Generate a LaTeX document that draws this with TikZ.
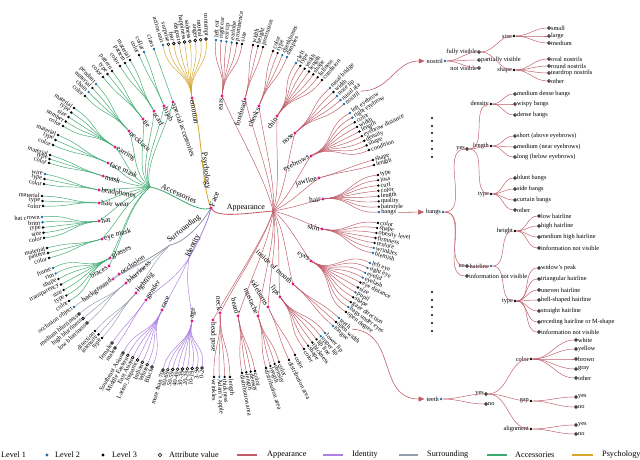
\documentclass[tikz,border=0pt]{standalone}
\usepackage{fontspec}
\setmainfont{Liberation Serif}
\usetikzlibrary{calc,arrows.meta}
\definecolor{cA}{RGB}{192,92,104}
\definecolor{cI}{RGB}{170,128,224}
\definecolor{cS}{RGB}{148,156,172}
\definecolor{cC}{RGB}{60,170,112}
\definecolor{cP}{RGB}{214,166,44}
\definecolor{cPink}{RGB}{236,20,134}
\definecolor{cBlue}{RGB}{28,112,172}
\newcommand\fA{\fontsize{6.8}{7}\selectfont}
\newcommand\fB{\fontsize{6.3}{7}\selectfont}
\newcommand\fC{\fontsize{5.4}{6}\selectfont}
\newcommand\fL{\fontsize{7}{8}\selectfont}
\tikzset{
  lnk/.style={line width=0.4pt},
  mainlnk/.style={line width=0.7pt},
  dotP/.style={circle,fill=cPink,inner sep=0pt,minimum size=2.6pt},
  dotb/.style={circle,fill=cBlue,inner sep=0pt,minimum size=2.2pt},
  dotk/.style={circle,fill=black,inner sep=0pt,minimum size=2.2pt},
  doto/.style={circle,draw=black,fill=white,line width=0.5pt,inner sep=0pt,minimum size=2.4pt},
  dotstyle/.style={dot#1},
  hl/.style={inner sep=1.6pt,font=\fC},
  arr/.style={-{Triangle[length=5pt,width=4.2pt]},line width=0.5pt,cA},
  lgline/.style={line width=1.8pt},
  lgtext/.style={anchor=west,inner sep=0pt,font=\fL},
}
% radial label: name, x, y, text, outward(1)/inward(0), font
\newcommand\rlab[6]{%
  \pgfmathsetmacro\rang{atan2(208-(#3),(#2)-211)}%
  \pgfmathsetmacro\rright{cos(\rang)>=0 ? 1 : 0}%
  \pgfmathsetmacro\rrot{\rright>0.5 ? \rang : \rang+180}%
  \pgfmathsetmacro\rwest{abs(\rright-(#5))<0.5 ? 1 : 0}%
  \ifdim\rwest pt>0.5pt\def\ranch{west}\else\def\ranch{east}\fi
  \node[anchor=\ranch,rotate=\rrot,inner sep=1.8pt,font=#6] (#1) at (#2,#3) {#4};%
}
% leaf group: color, parent, x1,y1, x2,y2, n, list type/label
\newcommand\lgrp[8]{%
  \coordinate (gm) at ({((#3)+(#5))/2},{((#4)+(#6))/2});
  \foreach \ty/\lb [count=\ix from 0] in {#8} {%
    \pgfmathsetmacro\lx{#3+((#5)-(#3))*\ix/max((#7)-1,1)}%
    \pgfmathsetmacro\ly{#4+((#6)-(#4))*\ix/max((#7)-1,1)}%
    \coordinate (#2-c\ix) at (\lx,\ly);
    \draw[lnk,#1] (#2) .. controls ($(#2)!0.5!(gm)$) and ($(#2-c\ix)+0.5*(#2)-0.5*(gm)$) .. (#2-c\ix);
    \node[dotstyle/.expand once=\ty] (#2-\ix) at (#2-c\ix) {};
    \rlab{#2-t\ix}{\lx}{\ly}{\lb}{1}{\fC}
  }%
}
% level-2 node: name, x, y, label, hub, mid, color, outward
\newcommand\ltwo[8]{%
  \coordinate (#1-c) at (#2,#3);
  \draw[lnk,#7] (#5) .. controls ($0.5*(#5)+0.25*(#1-c)+0.25*(#6)$) and ($(#1-c)!0.35!(#5)$) .. (#1-c);
  \node[dotP] (#1) at (#1-c) {};
  \rlab{#1-t}{#2}{#3}{#4}{#8}{\fB}%
}
\newcommand\rnl[5]{\node[dotstyle=#4] (#1) at (#2,#3) {};\node[hl,anchor=east] (#1-t) at (#2,#3) {#5};}
\newcommand\rnr[5]{\node[dotstyle=#4] (#1) at (#2,#3) {};\node[hl,anchor=west] (#1-t) at (#2,#3) {#5};}
\newcommand\hlk[2]{\draw[lnk,cA] (#1) to[out=0,in=180] (#2);}

\begin{document}
\begin{tikzpicture}[x=0.03cm,y=-0.03cm]
\path[use as bounding box,fill=white] (0,0) rectangle (640,460);

% ---------- root and level 1 ----------
\coordinate (facec) at (211,208);
\coordinate (HA) at (273,211); \coordinate (MA) at (300,211);
\coordinate (HC) at (150,187); \coordinate (MC) at (100,190);
\coordinate (HS) at (170,245); \coordinate (MS) at (120,285);
\coordinate (HI) at (189,258); \coordinate (MI) at (170,310);
\coordinate (emotion-c) at (192,98);
\draw[mainlnk,cA] (facec) .. controls (216,218) and (240,214) .. (HA);
\draw[mainlnk,cC] (facec) .. controls (196,214) and (172,191) .. (HC);
\draw[mainlnk,cS] (facec) .. controls (203,222) and (186,242) .. (HS);
\draw[mainlnk,cI] (facec) .. controls (208,222) and (198,242) .. (HI);
\draw[mainlnk,cP] (facec) .. controls (201,185) and (202,125) .. (emotion-c);
\node[dotP] (face) at (facec) {};
\node[font=\fA,anchor=west,inner sep=1.5pt,rotate=70] (lFace) at (face) {Face};
\node[font=\fA,inner sep=0pt] (lApp) at (246,208) {Appearance};
\node[font=\fA,inner sep=0pt,rotate=-24] (lAcc) at (179,194) {Accessories};
\node[font=\fA,inner sep=0pt,rotate=38] (lSur) at (184,229) {Surrounding};
\node[font=\fA,inner sep=0pt,rotate=64] (lIde) at (193,246) {Identity};
\node[font=\fA,inner sep=0pt,rotate=-84] (lPsy) at (206,171) {Psychology};

% ---------- Psychology ----------
\node[dotP] (emotion) at (emotion-c) {};
\rlab{emotion-t}{192}{98}{emotion}{0}{\fB}
\lgrp{cP}{emotion}{163}{45}{206}{39}{9}{b/action unit,o/surprise,o/fear,o/disgust,o/happiness,o/sadness,o/anger,o/neutral,o/contempt}

% ---------- Appearance ----------
\ltwo{ears}{222}{96}{ears}{HA}{MA}{cA}{0}
\ltwo{forehead}{245}{99}{forehead}{HA}{MA}{cA}{0}
\ltwo{cheeks}{259}{106}{cheeks}{HA}{MA}{cA}{0}
\ltwo{chin}{277}{116}{chin}{HA}{MA}{cA}{0}
\ltwo{nose}{295}{133}{nose}{HA}{MA}{cA}{0}
\ltwo{eyebrows}{311}{156}{eyebrows}{HA}{MA}{cA}{0}
\ltwo{jawline}{319}{178}{jawline}{HA}{MA}{cA}{0}
\ltwo{hair}{323}{199}{hair}{HA}{MA}{cA}{0}
\ltwo{skin}{322}{229}{skin}{HA}{MA}{cA}{0}
\ltwo{eyes}{311}{261}{eyes}{HA}{MA}{cA}{0}
\ltwo{mouth}{293}{284}{inside of mouth}{HA}{MA}{cA}{0}
\ltwo{lips}{280}{297}{lips}{HA}{MA}{cA}{0}
\ltwo{sideburns}{268}{307}{sideburns}{HA}{MA}{cA}{0}
\ltwo{mustache}{258}{316}{mustache}{HA}{MA}{cA}{0}
\ltwo{beard}{238}{316}{beard}{HA}{MA}{cA}{0}
\ltwo{neck}{220}{313}{neck}{HA}{MA}{cA}{0}
\ltwo{headpose}{213}{320}{head pose}{HA}{MA}{cA}{1}

\lgrp{cA}{ears}{216}{40}{242}{44}{6}{b/left ear,b/right ear,b/ear tip,b/earlobe,k/prominence,k/size}
\lgrp{cA}{forehead}{253}{45}{263}{47}{3}{k/width,k/height,k/protrusion}
\lgrp{cA}{cheeks}{273}{51}{287}{57}{4}{k/color,k/type,b/cheekbones,b/dimples}
\lgrp{cA}{chin}{296}{63}{322}{80}{7}{b/cleft,k/type,k/width,k/length,k/shape,k/fullness,k/condition}
\lgrp{cA}{nose}{330}{88}{344}{104}{5}{b/nasal bridge,k/width,b/nose tip,b/nasal ala,b/nostril}
\lgrp{cA}{eyebrows}{350}{113}{369}{150}{9}{b/left eyebrow,b/right eyebrow,k/color,k/width,k/length,k/eyebrow distance,k/density,k/shape,k/condition}
\lgrp{cA}{jawline}{373}{160}{374}{165}{2}{k/shape,k/length}
\lgrp{cA}{hair}{378}{175}{379}{212}{8}{k/type,k/loss,k/curl,k/color,k/length,k/quality,k/hairstyle,b/bangs}
\lgrp{cA}{skin}{378}{223}{373}{253}{7}{k/color,k/shape,k/obesity level,k/firmness,k/texture,b/wrinkles,b/blemish}
\lgrp{cA}{eyes}{370}{263}{346}{312}{11}{b/left eye,b/right eye,b/eyelid,b/eyelash,k/eye distance,k/size,b/pupil,k/shape,k/gaze direction,b/bags under eyes,k/open degree}
\lgrp{cA}{mouth}{339}{318}{333}{326}{3}{b/teeth,k/open width,b/tongue}
\lgrp{cA}{lips}{325}{333}{304}{349}{6}{b/lower lip,b/upper lip,k/lip line,k/thickness,k/shape,k/color}
\lgrp{cA}{sideburns}{295}{355}{289}{360}{2}{k/color,k/distribution area}
\lgrp{cA}{mustache}{279}{362}{266}{368}{4}{k/color,k/density,k/length,k/distribution area}
\lgrp{cA}{beard}{255}{371}{242}{373}{4}{k/color,k/density,k/length,k/distribution area}
\lgrp{cA}{neck}{230}{377}{214}{377}{4}{k/length,k/thickness,b/Adam's apple,k/wrinkles}

% ---------- Accessories ----------
\ltwo{braces}{109}{266}{braces}{HC}{MC}{cC}{1}
\ltwo{glasses}{110}{258}{glasses}{HC}{MC}{cC}{0}
\ltwo{eyemask}{102}{239}{eye mask}{HC}{MC}{cC}{0}
\ltwo{hat}{99}{221}{hat}{HC}{MC}{cC}{0}
\ltwo{hairwear}{99}{203}{hair wear}{HC}{MC}{cC}{0}
\ltwo{headph}{99}{190}{headphones}{HC}{MC}{cC}{0}
\ltwo{mask}{103}{176}{mask}{HC}{MC}{cC}{0}
\ltwo{facemask}{108}{163}{face mask}{HC}{MC}{cC}{0}
\ltwo{earring}{115}{147}{earring}{HC}{MC}{cC}{0}
\ltwo{necklace}{129}{131}{necklace}{HC}{MC}{cC}{0}
\ltwo{tie}{143}{119}{tie}{HC}{MC}{cC}{0}
\ltwo{scarf}{154}{111}{scarf}{HC}{MC}{cC}{0}
\ltwo{hijab}{164}{106}{hijab}{HC}{MC}{cC}{0}
\ltwo{specacc}{173}{102}{special accessories}{HC}{MC}{cC}{0}

\lgrp{cC}{glasses}{53}{268}{69}{301}{7}{b/frame,b/rim,k/shape,k/transparency,k/size,k/type,k/color}
\lgrp{cC}{eyemask}{47}{248}{49}{258}{3}{k/material,k/pattern,k/color}
\lgrp{cC}{hat}{42}{217}{44}{238}{5}{b/hat crown,b/brim,k/type,k/size,k/color}
\lgrp{cC}{hairwear}{42}{196}{43}{206}{3}{k/material,k/type,k/color}
\lgrp{cC}{headph}{45}{174}{44}{184}{3}{b/wire,k/type,k/color}
\lgrp{cC}{mask}{50}{155}{49}{163}{3}{k/material,k/type,k/color}
\lgrp{cC}{facemask}{58}{135}{53}{145}{3}{k/material,k/type,k/color}
\lgrp{cC}{earring}{74}{108}{63}{126}{5}{k/material,k/type,k/size,k/number,k/color}
\lgrp{cC}{necklace}{96}{84}{85}{96}{4}{b/pendant,k/material,b/chain,k/color}
\lgrp{cC}{tie}{112}{71}{103}{77}{3}{k/pattern,k/type,k/color}
\lgrp{cC}{scarf}{130}{60}{120}{66}{3}{k/material,k/pattern,k/color}
\lgrp{cC}{hijab}{144}{52}{139}{55}{2}{b/collar,k/color}
\lgrp{cC}{specacc}{154}{49}{154}{49}{1}{b/class}

% ---------- Surrounding ----------
\ltwo{backgr}{113}{279}{background}{HS}{MS}{cS}{1}
\ltwo{occl}{119}{274}{occlusion}{HS}{MS}{cS}{0}
\ltwo{blur}{126}{283}{blurriness}{HS}{MS}{cS}{0}
\ltwo{light}{136}{293}{lighting}{HS}{MS}{cS}{0}
\lgrp{cS}{occl}{74}{307}{74}{307}{1}{b/occlusion object}
\lgrp{cS}{blur}{79}{314}{87}{323}{3}{o/medium blurriness,o/high blurriness,o/low blurriness}
\lgrp{cS}{light}{95}{331}{102}{338}{3}{k/direction,k/intensity,k/type}

% ---------- Identity ----------
\ltwo{gender}{146}{300}{gender}{HI}{MI}{cI}{0}
\ltwo{race}{162}{310}{race}{HI}{MI}{cI}{0}
\ltwo{age}{192}{321}{age}{HI}{MI}{cI}{0}
\lgrp{cI}{gender}{112}{343}{115}{348}{2}{o/female,o/male}
\lgrp{cI}{race}{123}{353}{152}{367}{7}{o/Southeast Asian,o/Middle Eastern,o/East Asian,o/Latino\_hispanic,o/Indian,o/White,o/Black}
\lgrp{cI}{age}{163}{370}{202}{368}{9}{o/more than 70,o/60-69,o/50-59,o/40-49,o/30-39,o/20-29,o/10-19,o/3-9,o/0-2}

% ---------- nostril tree ----------
\rnl{nostril}{445}{61}{b}{nostril}
\rnl{fullv}{479}{52}{o}{fully visible}
\rnr{partv}{479}{60}{o}{partially visible}
\rnl{notv}{479}{68}{o}{not visible}
\rnl{nsize}{514}{36}{k}{size}
\rnl{nshape}{514}{70}{k}{shape}
\rnr{nsmall}{549}{28}{o}{small}
\rnr{nlarge}{549}{36}{o}{large}
\rnr{nmed}{549}{43}{o}{medium}
\rnr{noval}{549}{59}{o}{oval nostrils}
\rnr{nround}{549}{66}{o}{round nostrils}
\rnr{ntear}{549}{73}{o}{teardrop nostrils}
\rnr{nother}{549}{81}{o}{other}
\hlk{nostril}{fullv}\hlk{nostril}{partv}\hlk{nostril}{notv}
\hlk{fullv}{nsize}\hlk{fullv}{nshape}
\hlk{nsize}{nsmall}\hlk{nsize}{nlarge}\hlk{nsize}{nmed}
\hlk{nshape}{noval}\hlk{nshape}{nround}\hlk{nshape}{ntear}\hlk{nshape}{nother}

% ---------- bangs tree ----------
\rnl{bangs}{443}{212}{b}{bangs}
\rnl{byes}{467}{149}{o}{yes}
\rnl{bno}{467}{266}{o}{no}
\rnr{binv}{467}{276}{o}{information not visible}
\rnl{bdens}{491}{104}{k}{density}
\rnl{blen}{491}{146}{k}{length}
\rnl{btype}{491}{194}{k}{type}
\rnr{bmd}{515}{94}{o}{medium dense bangs}
\rnr{bwb}{515}{104}{o}{wispy bangs}
\rnr{bdb}{515}{115}{o}{dense bangs}
\rnr{bshort}{515}{136}{o}{short (above eyebrows)}
\rnr{bmed}{515}{147}{o}{medium (near eyebrows)}
\rnr{blong}{515}{157}{o}{long (below eyebrows)}
\rnr{bblunt}{515}{178}{o}{blunt bangs}
\rnr{bside}{515}{189}{o}{side bangs}
\rnr{bcurt}{515}{200}{o}{curtain bangs}
\rnr{bother}{515}{210}{o}{other}
\rnl{hline}{491}{266}{b}{hairline}
\rnl{hheight}{515}{231}{k}{height}
\rnl{htype}{515}{301}{k}{type}
\rnr{hlow}{539}{216}{o}{low hairline}
\rnr{hhigh}{539}{226}{o}{high hairline}
\rnr{hmh}{539}{237}{o}{medium high hairline}
\rnr{hinv}{539}{248}{o}{information not visible}
\rnr{hwid}{539}{268}{o}{widow's peak}
\rnr{htri}{539}{279}{o}{triangular hairline}
\rnr{hunev}{539}{290}{o}{uneven hairline}
\rnr{hbell}{539}{300}{o}{bell-shaped hairline}
\rnr{hstr}{539}{311}{o}{straight hairline}
\rnr{hrec}{539}{322}{o}{receding hairline or M-shape}
\rnr{hinv2}{539}{332}{o}{information not visible}
\hlk{bangs}{byes}\hlk{bangs}{bno}\hlk{bangs}{binv}
\hlk{byes}{bdens}\hlk{byes}{blen}\hlk{byes}{btype}
\hlk{bdens}{bmd}\hlk{bdens}{bwb}\hlk{bdens}{bdb}
\hlk{blen}{bshort}\hlk{blen}{bmed}\hlk{blen}{blong}
\hlk{btype}{bblunt}\hlk{btype}{bside}\hlk{btype}{bcurt}\hlk{btype}{bother}
\hlk{bno}{hline}\hlk{hline}{hheight}\hlk{hline}{htype}
\hlk{hheight}{hlow}\hlk{hheight}{hhigh}\hlk{hheight}{hmh}\hlk{hheight}{hinv}
\hlk{htype}{hwid}\hlk{htype}{htri}\hlk{htype}{hunev}\hlk{htype}{hbell}\hlk{htype}{hstr}\hlk{htype}{hrec}\hlk{htype}{hinv2}

% ---------- teeth tree ----------
\rnl{teeth}{441}{399}{b}{teeth}
\rnl{tyes}{486}{394}{o}{yes}
\rnr{tno}{486}{404}{o}{no}
\rnl{tcolor}{531}{359}{k}{color}
\rnl{tgap}{531}{401}{k}{gap}
\rnl{talign}{531}{429}{k}{alignment}
\rnr{twhite}{576}{340}{o}{white}
\rnr{tyellow}{576}{349}{o}{yellow}
\rnr{tbrown}{576}{359}{o}{brown}
\rnr{tgray}{576}{369}{o}{gray}
\rnr{tother}{576}{378}{o}{other}
\rnr{gyes}{576}{397}{o}{yes}
\rnr{gno}{576}{407}{o}{no}
\rnr{ayes}{576}{425}{o}{yes}
\rnr{ano}{576}{434}{o}{no}
\hlk{teeth}{tyes}\hlk{teeth}{tno}
\hlk{tyes}{tcolor}\hlk{tyes}{tgap}\hlk{tyes}{talign}
\hlk{tcolor}{twhite}\hlk{tcolor}{tyellow}\hlk{tcolor}{tbrown}\hlk{tcolor}{tgray}\hlk{tcolor}{tother}
\hlk{tgap}{gyes}\hlk{tgap}{gno}\hlk{talign}{ayes}\hlk{talign}{ano}

% ---------- connectors to the expanded trees ----------
\draw[arr] (nose-t4.east) .. controls ($(nose-t4.east)+(30,0)$) and ($(nostril-t.west)+(-30,0)$) .. (nostril-t.west);
\draw[arr] (hair-t7.east) -- (bangs-t.west);
\draw[arr] (mouth-t0.east) .. controls ($(mouth-t0.east)+(46,3)$) and ($(teeth-t.west)+(-48,0)$) .. (teeth-t.west);

% ---------- vertical ellipses ----------
\foreach \yy [count=\k] in {118,126,133,141,149,157}
  \node[circle,fill=black,inner sep=0pt,minimum size=2pt] (va\k) at (432,\yy) {};
\foreach \yy [count=\k] in {292,300,307,315,323,331}
  \node[circle,fill=black,inner sep=0pt,minimum size=2pt] (vb\k) at (432,\yy) {};

% ---------- legend ----------
\node[lgtext] (lg1) at (1,455) {Level 1};
\node[dotb,minimum size=2.8pt] (lg2d) at (47,455) {}; \node[lgtext] (lg2) at (55,455) {Level 2};
\node[dotk,minimum size=2.8pt] (lg3d) at (103,455) {}; \node[lgtext] (lg3) at (112,455) {Level 3};
\node[doto,minimum size=3pt] (lg4d) at (160,455) {}; \node[lgtext] (lg4) at (169,455) {Attribute value};
\coordinate (la1) at (237,455); \coordinate (la2) at (257,455);
\draw[lgline,cA] (la1) -- (la2); \node[lgtext] (lg5) at (267,455) {Appearance};
\coordinate (li1) at (323,455); \coordinate (li2) at (343,455);
\draw[lgline,cI] (li1) -- (li2); \node[lgtext] (lg6) at (352,455) {Identity};
\coordinate (ls1) at (399,455); \coordinate (ls2) at (418,455);
\draw[lgline,cS] (ls1) -- (ls2); \node[lgtext] (lg7) at (427,455) {Surrounding};
\coordinate (lc1) at (487,455); \coordinate (lc2) at (507,455);
\draw[lgline,cC] (lc1) -- (lc2); \node[lgtext] (lg8) at (515,455) {Accessories};
\coordinate (lp1) at (572,455); \coordinate (lp2) at (593,455);
\draw[lgline,cP] (lp1) -- (lp2); \node[lgtext] (lg9) at (602,455) {Psychology};
\end{tikzpicture}
\end{document}
